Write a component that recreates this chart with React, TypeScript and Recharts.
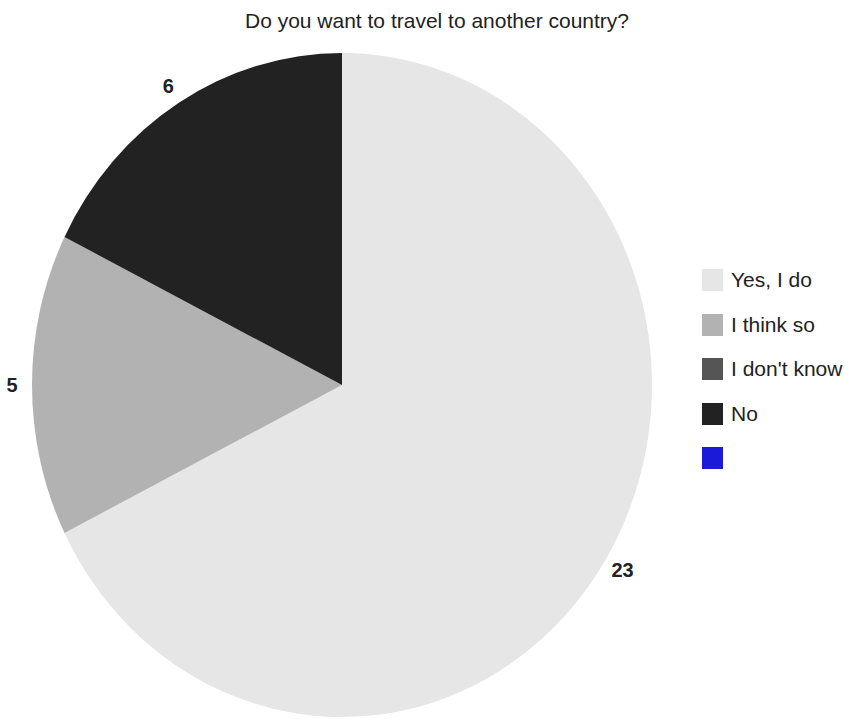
import React from 'react';
import { PieChart, Pie, Cell, Legend } from 'recharts';

const TITLE = 'Do you want to travel to another country?';
const categories = ['Yes, I do', 'I think so', "I don't know", 'No', ''];
const values = [23, 5, 0, 6, 0];
const colors = ['#e6e6e6', '#b2b2b2', '#555555', '#222222', '#1a1ad8'];

const CX = 342;
const CY = 385;
const RX = 310;
const RY = 332;
const K = RY / RX;
const FONT = '"Liberation Sans", Arial, sans-serif';

const pieData = categories
  .map((name, i) => ({ name, value: values[i], color: colors[i] }))
  .filter((d) => d.value > 0);

const RAD = Math.PI / 180;

const renderLabel = (props: any) => {
  const { cx, cy, midAngle, outerRadius, value } = props;
  if (!value) return null;
  const off = 20;
  const c = Math.cos(-midAngle * RAD);
  const s = Math.sin(-midAngle * RAD);
  const x = cx + (outerRadius + off) * c;
  const y = cy + (outerRadius * K + off) * s;
  return (
    <text
      x={x}
      y={y}
      textAnchor="middle"
      dominantBaseline="central"
      fill="#222222"
      fontSize={20}
      fontWeight="bold"
      fontFamily={FONT}
    >
      {value}
    </text>
  );
};

const LegendContent = () => (
  <div style={{ fontFamily: FONT }}>
    {categories.map((name, i) => (
      <div
        key={i}
        style={{ display: 'flex', alignItems: 'center', height: 44.5 }}
      >
        <div
          style={{
            width: 21,
            height: 22,
            background: colors[i],
            marginRight: 8,
            flex: 'none',
          }}
        />
        <span style={{ fontSize: 21, color: '#222222', whiteSpace: 'nowrap' }}>{name}</span>
      </div>
    ))}
  </div>
);

export default function App() {
  return (
    <div style={{ position: 'absolute', left: 0, top: 0, width: 845, height: 719, background: '#ffffff' }}>
      <style>{`.recharts-sector { transform: scaleY(${K}); transform-origin: ${CX}px ${CY}px; }`}</style>
      <div
        style={{
          position: 'absolute',
          left: 437,
          top: 8,
          transform: 'translateX(-50%)',
          fontFamily: FONT,
          fontSize: 21,
          lineHeight: '26px',
          color: '#222222',
          whiteSpace: 'nowrap',
        }}
      >
        {TITLE}
      </div>
      <PieChart width={845} height={719} margin={{ top: 0, right: 0, bottom: 0, left: 0 }}>
        <Pie
          data={pieData}
          dataKey="value"
          nameKey="name"
          cx={CX}
          cy={CY}
          outerRadius={RX}
          startAngle={90}
          endAngle={-270}
          stroke="none"
          label={renderLabel}
          labelLine={false}
          isAnimationActive={false}
        >
          {pieData.map((d, i) => (
            <Cell key={i} fill={d.color} />
          ))}
        </Pie>
        <Legend
          layout="vertical"
          align="right"
          verticalAlign="middle"
          content={() => <LegendContent />}
          wrapperStyle={{ position: 'absolute', left: 702, top: 258, width: 143, right: 'auto', bottom: 'auto' }}
        />
      </PieChart>
    </div>
  );
}
